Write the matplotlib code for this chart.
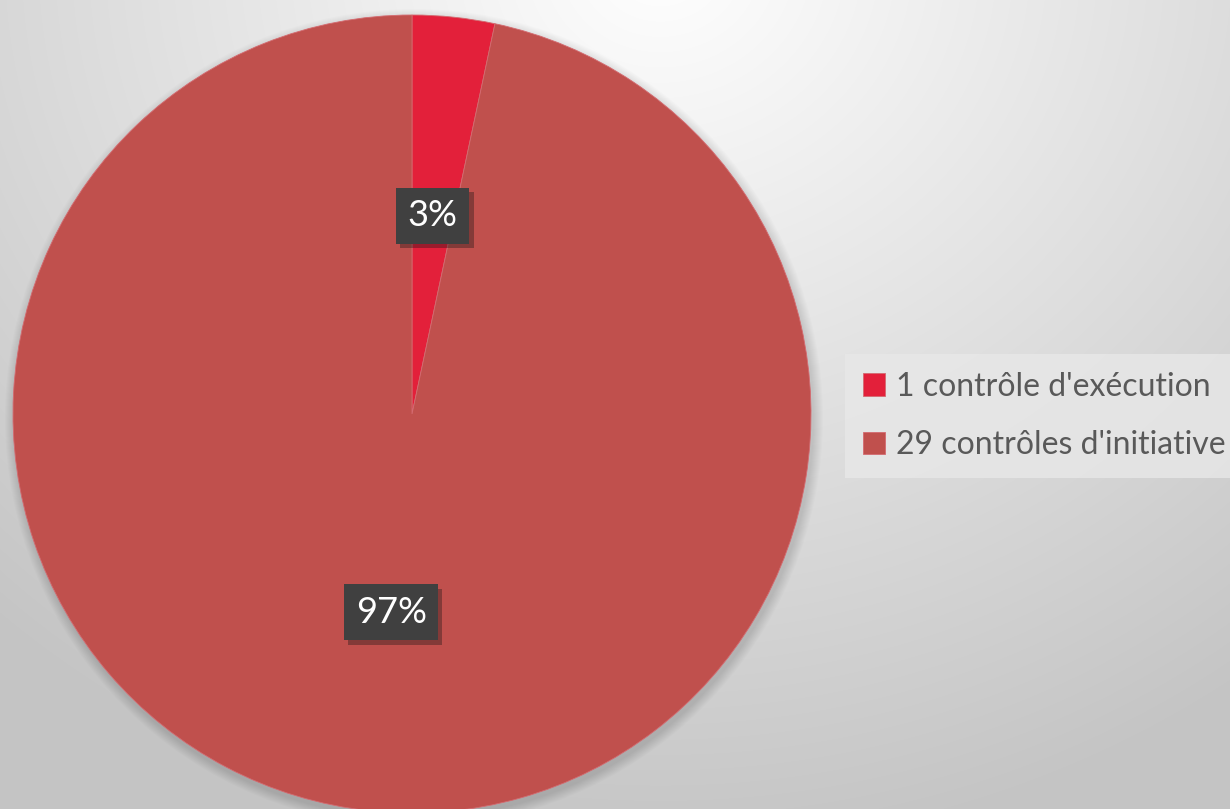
import numpy as np
import matplotlib.pyplot as plt
import matplotlib.patheffects as pe

labels = ["1 contrôle d'exécution", "29 contrôles d'initiative"]
counts = [1, 29]
colors = ['#E3203A', '#C0504D']

W, H = 1230, 809
fig = plt.figure(figsize=(W / 100, H / 100), dpi=100)

# fond en degrade radial (clair en haut au centre)
bg = fig.add_axes([0, 0, 1, 1])
yy, xx = np.mgrid[0:H, 0:W]
d = np.hypot(xx - 660, (yy + 40) * 1.1) / 900
g = np.clip(1.0 - 0.21 * d, 0.77, 1.0)
bg.imshow(np.dstack([g, g, g]), extent=[0, W, H, 0], aspect='auto')
bg.axis('off')

ax = fig.add_axes([0, 0, 1, 1])
ax.patch.set_visible(False)

# coordonnees en pixels, y vers le haut
cx, cy, R = 412, H - 414, 399

# ombre douce autour du camembert
for k in range(10):
    ax.add_patch(plt.Circle((cx + 2, cy - 4), R + 10 - k, color='black', alpha=0.012, lw=0))

wedges, texts, autotexts = ax.pie(
    counts, colors=colors, startangle=90, counterclock=False,
    center=(cx, cy), radius=R, autopct='%1.0f%%', pctdistance=0.5,
    wedgeprops=dict(linewidth=0.6, edgecolor='#D46A70'),
    textprops=dict(color='white', fontsize=26, family='Lato'),
    frame=True)
ax.set_xlim(0, W)
ax.set_ylim(0, H)
ax.set_aspect('equal')
ax.axis('off')

for t in autotexts:
    t.set_bbox(dict(boxstyle='square,pad=0.32', facecolor='#404040', edgecolor='none'))
    t.get_bbox_patch().set_path_effects([pe.SimplePatchShadow(offset=(3, -3), alpha=0.35), pe.Normal()])

leg = ax.legend(wedges, labels, loc='center left', bbox_to_anchor=(845 / W, 1 - 416 / H),
                frameon=True, fancybox=False, handlelength=0.7, handleheight=0.7,
                handletextpad=0.35, labelspacing=0.9, borderpad=0.55, borderaxespad=0,
                prop=dict(family='Lato', size=23))
leg.get_frame().set_facecolor('#E8E8E8')
leg.get_frame().set_edgecolor('none')
leg.get_frame().set_alpha(0.8)
for t in leg.get_texts():
    t.set_color('#595959')

fig.savefig('out.png', dpi=100)
